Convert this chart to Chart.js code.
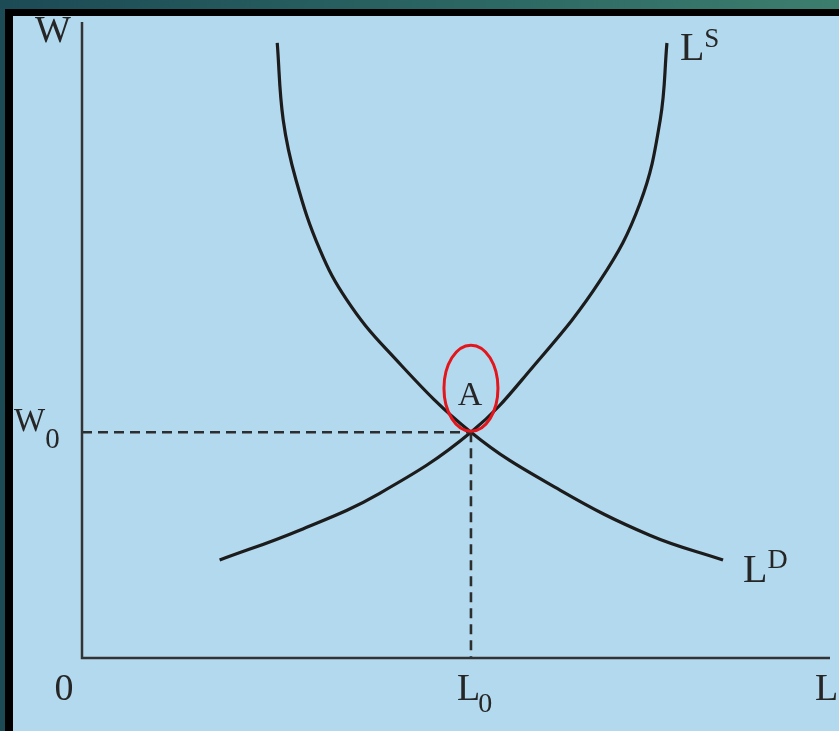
<!DOCTYPE html>
<html>
<head>
<meta charset="utf-8">
<script src="https://cdn.jsdelivr.net/npm/chart.js@4"></script>
<style>
    html, body { margin: 0; padding: 0; }
    body {
        width: 839px; height: 731px; overflow: hidden; position: relative;
        background: linear-gradient(90deg, #1c4a55 0%, #2b6663 55%, #3c7e6e 100%);
    }
    #frame { position: absolute; left: 5px; top: 9px; right: 0; bottom: 0; background: #000; }
    #panel { position: absolute; left: 13px; top: 16px; width: 826px; height: 715px; background: #b3d9ef; }
    #chart { position: absolute; left: 0; top: 0; }
</style>
</head>
<body>
<div id="frame"></div>
<div id="panel"><canvas id="chart" width="826" height="715"></canvas></div>
<script>
// equilibrium point
const L0 = 52;
const W0 = 35.5;

// labour demand curve (L^D)
const demandX = [26.1, 26.9, 28.6, 31.8, 35.4, 40.8, 52, 63.9, 75.9, 85.7];
const demandY = [96.7, 84.6, 75.2, 64.2, 56.3, 48.4, 35.5, 26.4, 19.3, 15.4];

// labour supply curve (L^S)
const supplyX = [18.4, 29.1, 39.8, 52, 60.3, 69.3, 74.6, 77.3, 78.2];
const supplyY = [15.4, 20.1, 25.9, 35.5, 45.8, 59.4, 71.5, 84.6, 96.7];

// axis labels
const xTickLabels = ["0", "L", "L"];
const xTickSubs = ["", "0", ""];
const yTopLabel = "W";
const yTickLabel = "W";
const yTickSub = "0";

const toPoints = (xs, ys) => xs.map((x, i) => ({ x, y: ys[i] }));

const ink = "#1c1c1c";
const serif = "'Liberation Serif', 'DejaVu Serif', serif";

const labelPlugin = {
    id: "labels",
    afterDatasetsDraw(chart) {
        const { ctx, scales: { x, y } } = chart;
        const px = v => x.getPixelForValue(v);
        const py = v => y.getPixelForValue(v);

        const text = (s, tx, ty, size, align = "left") => {
            ctx.font = `${size}px ${serif}`;
            ctx.textAlign = align;
            ctx.fillText(s, tx, ty);
            return ctx.measureText(s).width;
        };

        ctx.save();
        ctx.fillStyle = "#262626";
        ctx.textBaseline = "alphabetic";

        // x axis labels
        const xBase = py(0) + 42;
        text(xTickLabels[0], px(0) - 18, xBase, 38, "center");
        let w = text(xTickLabels[1], px(L0) - 14, xBase, 38);
        text(xTickSubs[1], px(L0) - 14 + w - 2, xBase + 12, 28);
        text(xTickLabels[2], px(100) - 15, xBase, 38);

        // y axis labels
        text(yTopLabel, px(0) - 47, py(100) + 20, 38);
        w = text(yTickLabel, px(0) - 68, py(W0) - 1, 33);
        text(yTickSub, px(0) - 68 + w, py(W0) + 16, 29);

        // curve labels
        const sx = px(supplyX[supplyX.length - 1]), sy = py(supplyY[supplyY.length - 1]);
        w = text("L", sx + 13, sy + 17, 40);
        text("S", sx + 13 + w, sy + 4, 27);
        const dx = px(demandX[demandX.length - 1]), dy = py(demandY[demandY.length - 1]);
        w = text("L", dx + 20, dy + 22, 40);
        text("D", dx + 20 + w, dy + 8, 28);

        // point A with red ellipse
        const ex = px(L0), ey = py(W0);
        text("A", ex - 1, ey - 27, 34, "center");
        ctx.beginPath();
        ctx.ellipse(ex, ey - 44, 27, 43, 0, 0, Math.PI * 2);
        ctx.strokeStyle = "#e3161c";
        ctx.lineWidth = 3;
        ctx.stroke();

        ctx.restore();
    }
};

new Chart(document.getElementById("chart"), {
    type: "scatter",
    data: {
        datasets: [
            {
                label: "axes",
                data: [{ x: 0, y: 100 }, { x: 0, y: 0 }, { x: 100, y: 0 }],
                showLine: true,
                borderColor: "#333",
                borderWidth: 2.5,
                pointRadius: 0,
                clip: false,
            },
            {
                label: "W0 guide",
                data: [{ x: 0, y: W0 }, { x: L0, y: W0 }],
                showLine: true,
                borderColor: "#2e2e2e",
                borderWidth: 2.6,
                borderDash: [10, 6],
                pointRadius: 0,
                clip: false,
            },
            {
                label: "L0 guide",
                data: [{ x: L0, y: W0 }, { x: L0, y: 0 }],
                showLine: true,
                borderColor: "#2e2e2e",
                borderWidth: 2.6,
                borderDash: [10, 6],
                pointRadius: 0,
                clip: false,
            },
            {
                label: "LD",
                data: toPoints(demandX, demandY),
                showLine: true,
                borderColor: ink,
                borderWidth: 3.2,
                pointRadius: 0,
                tension: 0.4,
                clip: false,
            },
            {
                label: "LS",
                data: toPoints(supplyX, supplyY),
                showLine: true,
                borderColor: ink,
                borderWidth: 3.2,
                pointRadius: 0,
                tension: 0.4,
                clip: false,
            },
        ],
    },
    options: {
        responsive: false,
        animation: false,
        layout: { padding: { left: 69, right: 9, top: 6, bottom: 73 } },
        plugins: {
            legend: { display: false },
            tooltip: { enabled: false },
        },
        scales: {
            x: { type: "linear", min: 0, max: 100, display: false },
            y: { type: "linear", min: 0, max: 100, display: false },
        },
    },
    plugins: [labelPlugin],
});
</script>
</body>
</html>
